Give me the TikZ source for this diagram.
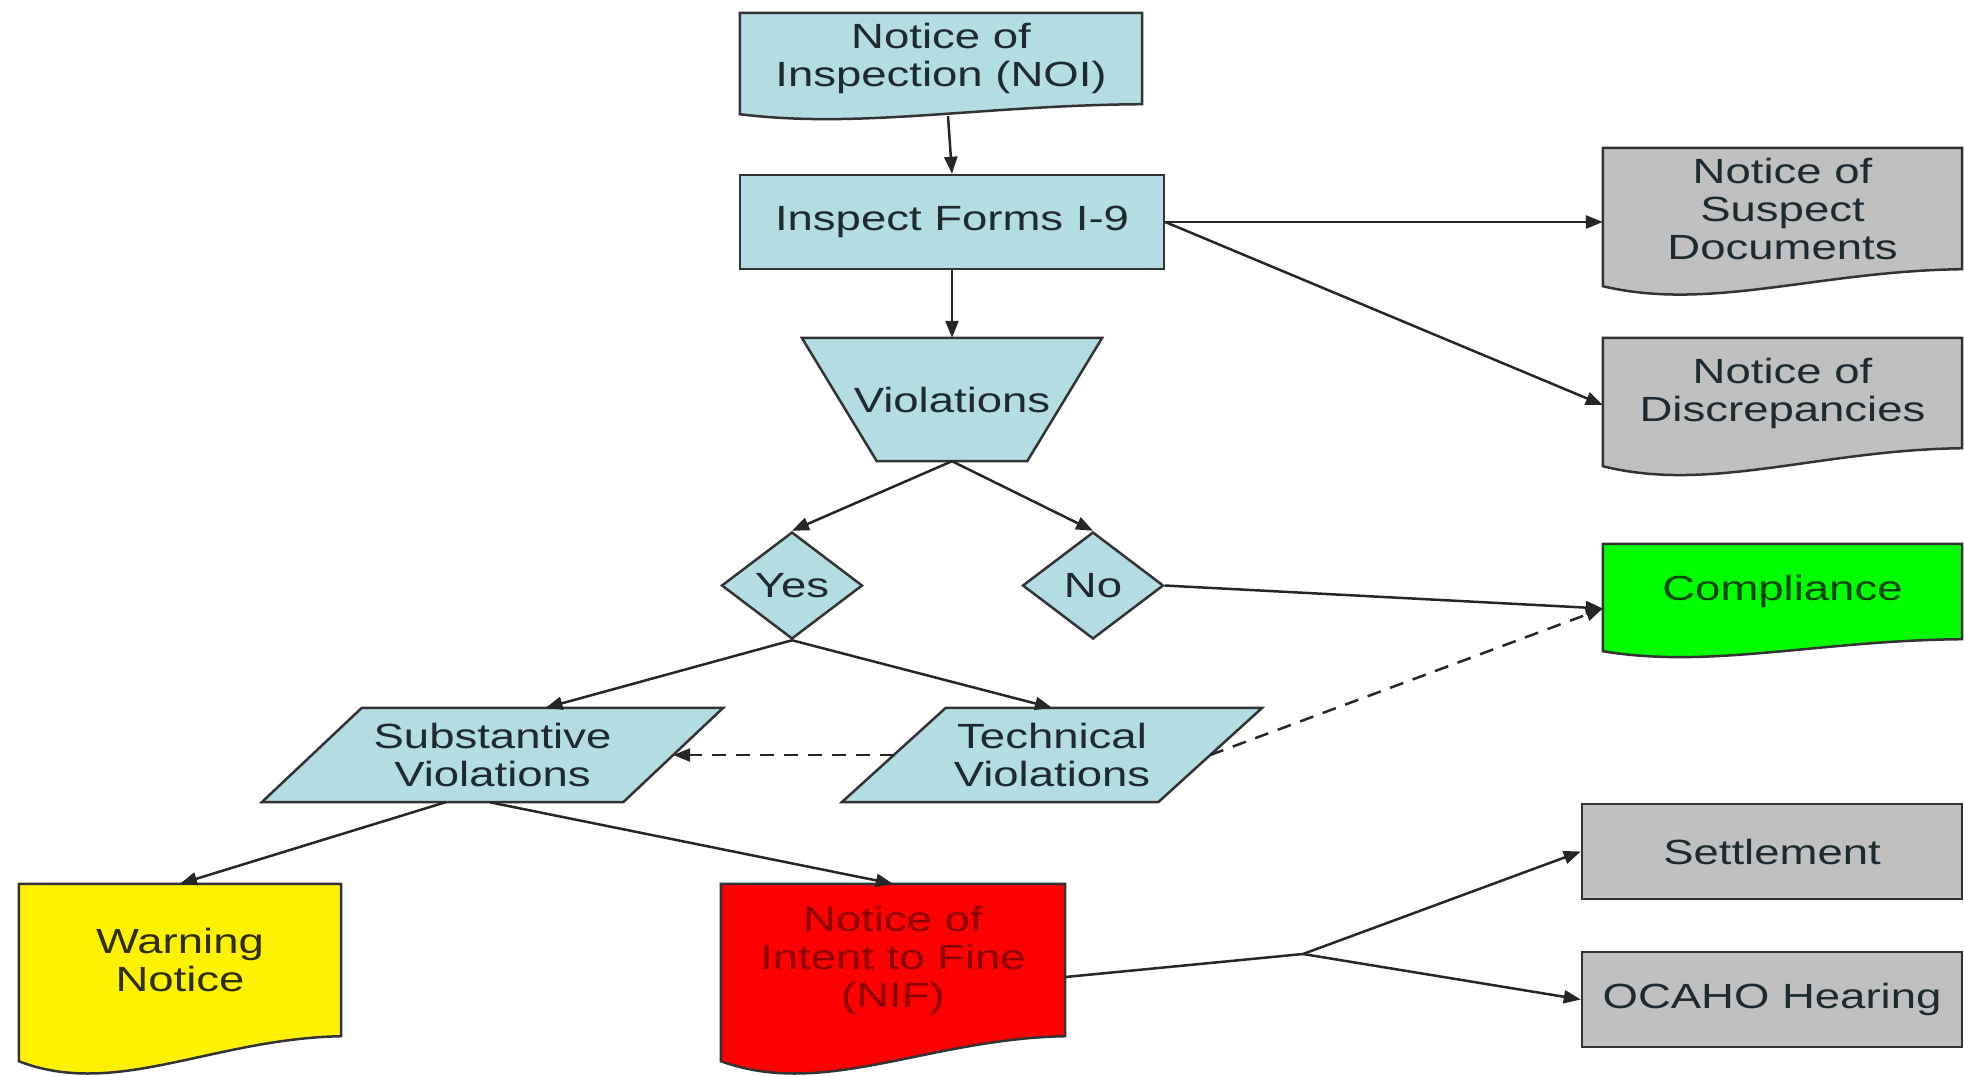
\documentclass[tikz,border=0pt]{standalone}
\usepackage{fontspec}
\setmainfont{Liberation Sans}[FakeStretch=1.3]
\usetikzlibrary{arrows.meta,shapes.geometric,calc}
\pgfdeclarelayer{background}
\pgfsetlayers{background,main}
\definecolor{lblue}{HTML}{B3DCE3}
\definecolor{gbox}{HTML}{C0C0C0}
\definecolor{edgec}{HTML}{333333}
\definecolor{txt}{HTML}{1E2A30}
\definecolor{nifred}{HTML}{8B0000}
\definecolor{compgreen}{HTML}{004400}
\definecolor{warntxt}{HTML}{2E2E00}
\tikzset{
 lbl/.style={font=\fontsize{35}{38}\selectfont, align=center, text=txt, inner sep=0pt},
 boxnode/.style={lbl, draw=edgec, line width=2.5pt, rectangle},
 shp/.style={draw=edgec, line width=2.5pt, line join=miter},
 conn/.style={draw=black!85, line width=2.5pt, -{Triangle[length=17pt,width=13pt]}},
 plainline/.style={draw=black!85, line width=2.5pt},
 dsh/.style={conn, dash pattern=on 14pt off 10pt},
}
\newcommand\docwave[3]{%
 \draw[shp, fill=#2] (#1.north west) -- (#1.north east) -- (#1.south east)
  .. controls ($(#1.south west)!0.6!(#1.south east)+(0,0.1*#3)$) and ($(#1.south west)!0.3!(#1.south east)+(0,2.5*#3)$) .. ($(#1.south west)+(0,#3)$) -- cycle;}
\begin{document}
\begin{tikzpicture}[x=1pt,y=-1pt]
\useasboundingbox (0,0) rectangle (1964,1076);
% nodes
\node[lbl, minimum width=402pt, minimum height=91pt] (noi) at (941,58.5) {Notice of\\Inspection (NOI)};
\node[boxnode, fill=lblue, minimum width=424pt, minimum height=94pt] (insp) at (952,222) {Inspect Forms I-9};
\node[lbl, minimum width=300pt, minimum height=123pt] (viol) at (952,399.5) {Violations};
\node[lbl, shape=diamond, draw=edgec, line width=2.5pt, fill=lblue, minimum width=141pt, minimum height=107pt] (yes) at (792,585.5) {Yes};
\node[lbl, shape=diamond, draw=edgec, line width=2.5pt, fill=lblue, minimum width=141pt, minimum height=107pt] (no) at (1093,585.5) {No};
\node[lbl, minimum width=361pt, minimum height=94pt] (subst) at (492.5,755) {Substantive\\Violations};
\node[lbl, minimum width=316pt, minimum height=94pt] (tech) at (1052,755) {Technical\\Violations};
\node[lbl, minimum width=359pt, minimum height=121pt] (sus) at (1782.5,208.5) {Notice of\\Suspect\\Documents};
\node[lbl, minimum width=359pt, minimum height=110pt] (disc) at (1782.5,393) {Notice of\\Discrepancies};
\node[lbl, text=compgreen, minimum width=359pt, minimum height=95pt] (comp) at (1782.5,591.5) {Compliance};
\node[lbl, text=warntxt, minimum width=322pt, minimum height=152pt] (warn) at (180,960) {Warning\\Notice};
\node[lbl, text=nifred, minimum width=344pt, minimum height=152pt] (nif) at (893,960) {Notice of\\Intent to Fine\\(NIF)};
\node[boxnode, fill=gbox, minimum width=380pt, minimum height=95pt] (settle) at (1772,851.5) {Settlement};
\node[boxnode, fill=gbox, minimum width=380pt, minimum height=95pt] (ocaho) at (1772,999.5) {OCAHO Hearing};
% shapes behind text
\begin{pgfonlayer}{background}
\docwave{noi}{lblue}{10}
\docwave{sus}{gbox}{17}
\docwave{disc}{gbox}{18}
\docwave{comp}{green}{12}
\docwave{warn}{yellow}{25}
\docwave{nif}{red}{25}
\draw[shp, fill=lblue] (viol.north west) -- (viol.north east) -- ($(viol.south east)+(-75,0)$) -- ($(viol.south west)+(75,0)$) -- cycle;
\draw[shp, fill=lblue] ($(subst.north west)+(50,0)$) -- ($(subst.north east)+(50,0)$) -- ($(subst.south east)+(-50,0)$) -- ($(subst.south west)+(-50,0)$) -- cycle;
\draw[shp, fill=lblue] ($(tech.north west)+(52,0)$) -- ($(tech.north east)+(52,0)$) -- ($(tech.south east)+(-52,0)$) -- ($(tech.south west)+(-52,0)$) -- cycle;
\end{pgfonlayer}
% connectors
\draw[conn] ($(noi.south)+(7,12)$) -- (insp.north);
\draw[conn] (insp.south) -- (viol.north);
\draw[conn] (insp.east) -- (insp.east -| sus.west);
\draw[conn] (insp.east) -- ($(disc.west)+(0,12)$);
\draw[conn] (viol.south) -- (yes.north);
\draw[conn] (viol.south) -- (no.north);
\coordinate (compin) at ($(comp.west)+(0,17)$);
\draw[conn] (no.east) -- (compin);
\draw[conn] (yes.south) -- ($(subst.north)+(53,0)$);
\draw[conn] (yes.south) -- (tech.north);
\draw[dsh] (tech.west) -- (subst.east);
\draw[dsh] (tech.east) -- (compin);
\draw[conn] ($(subst.south)+(-47,0)$) -- (warn.north);
\draw[conn] ($(subst.south)+(-3,0)$) -- (nif.north);
\coordinate (j) at (1303,954);
\draw[plainline] ($(nif.east)+(0,17)$) -- (j);
\draw[conn] (j) -- (settle.west);
\draw[conn] (j) -- (ocaho.west);
\end{tikzpicture}
\end{document}
